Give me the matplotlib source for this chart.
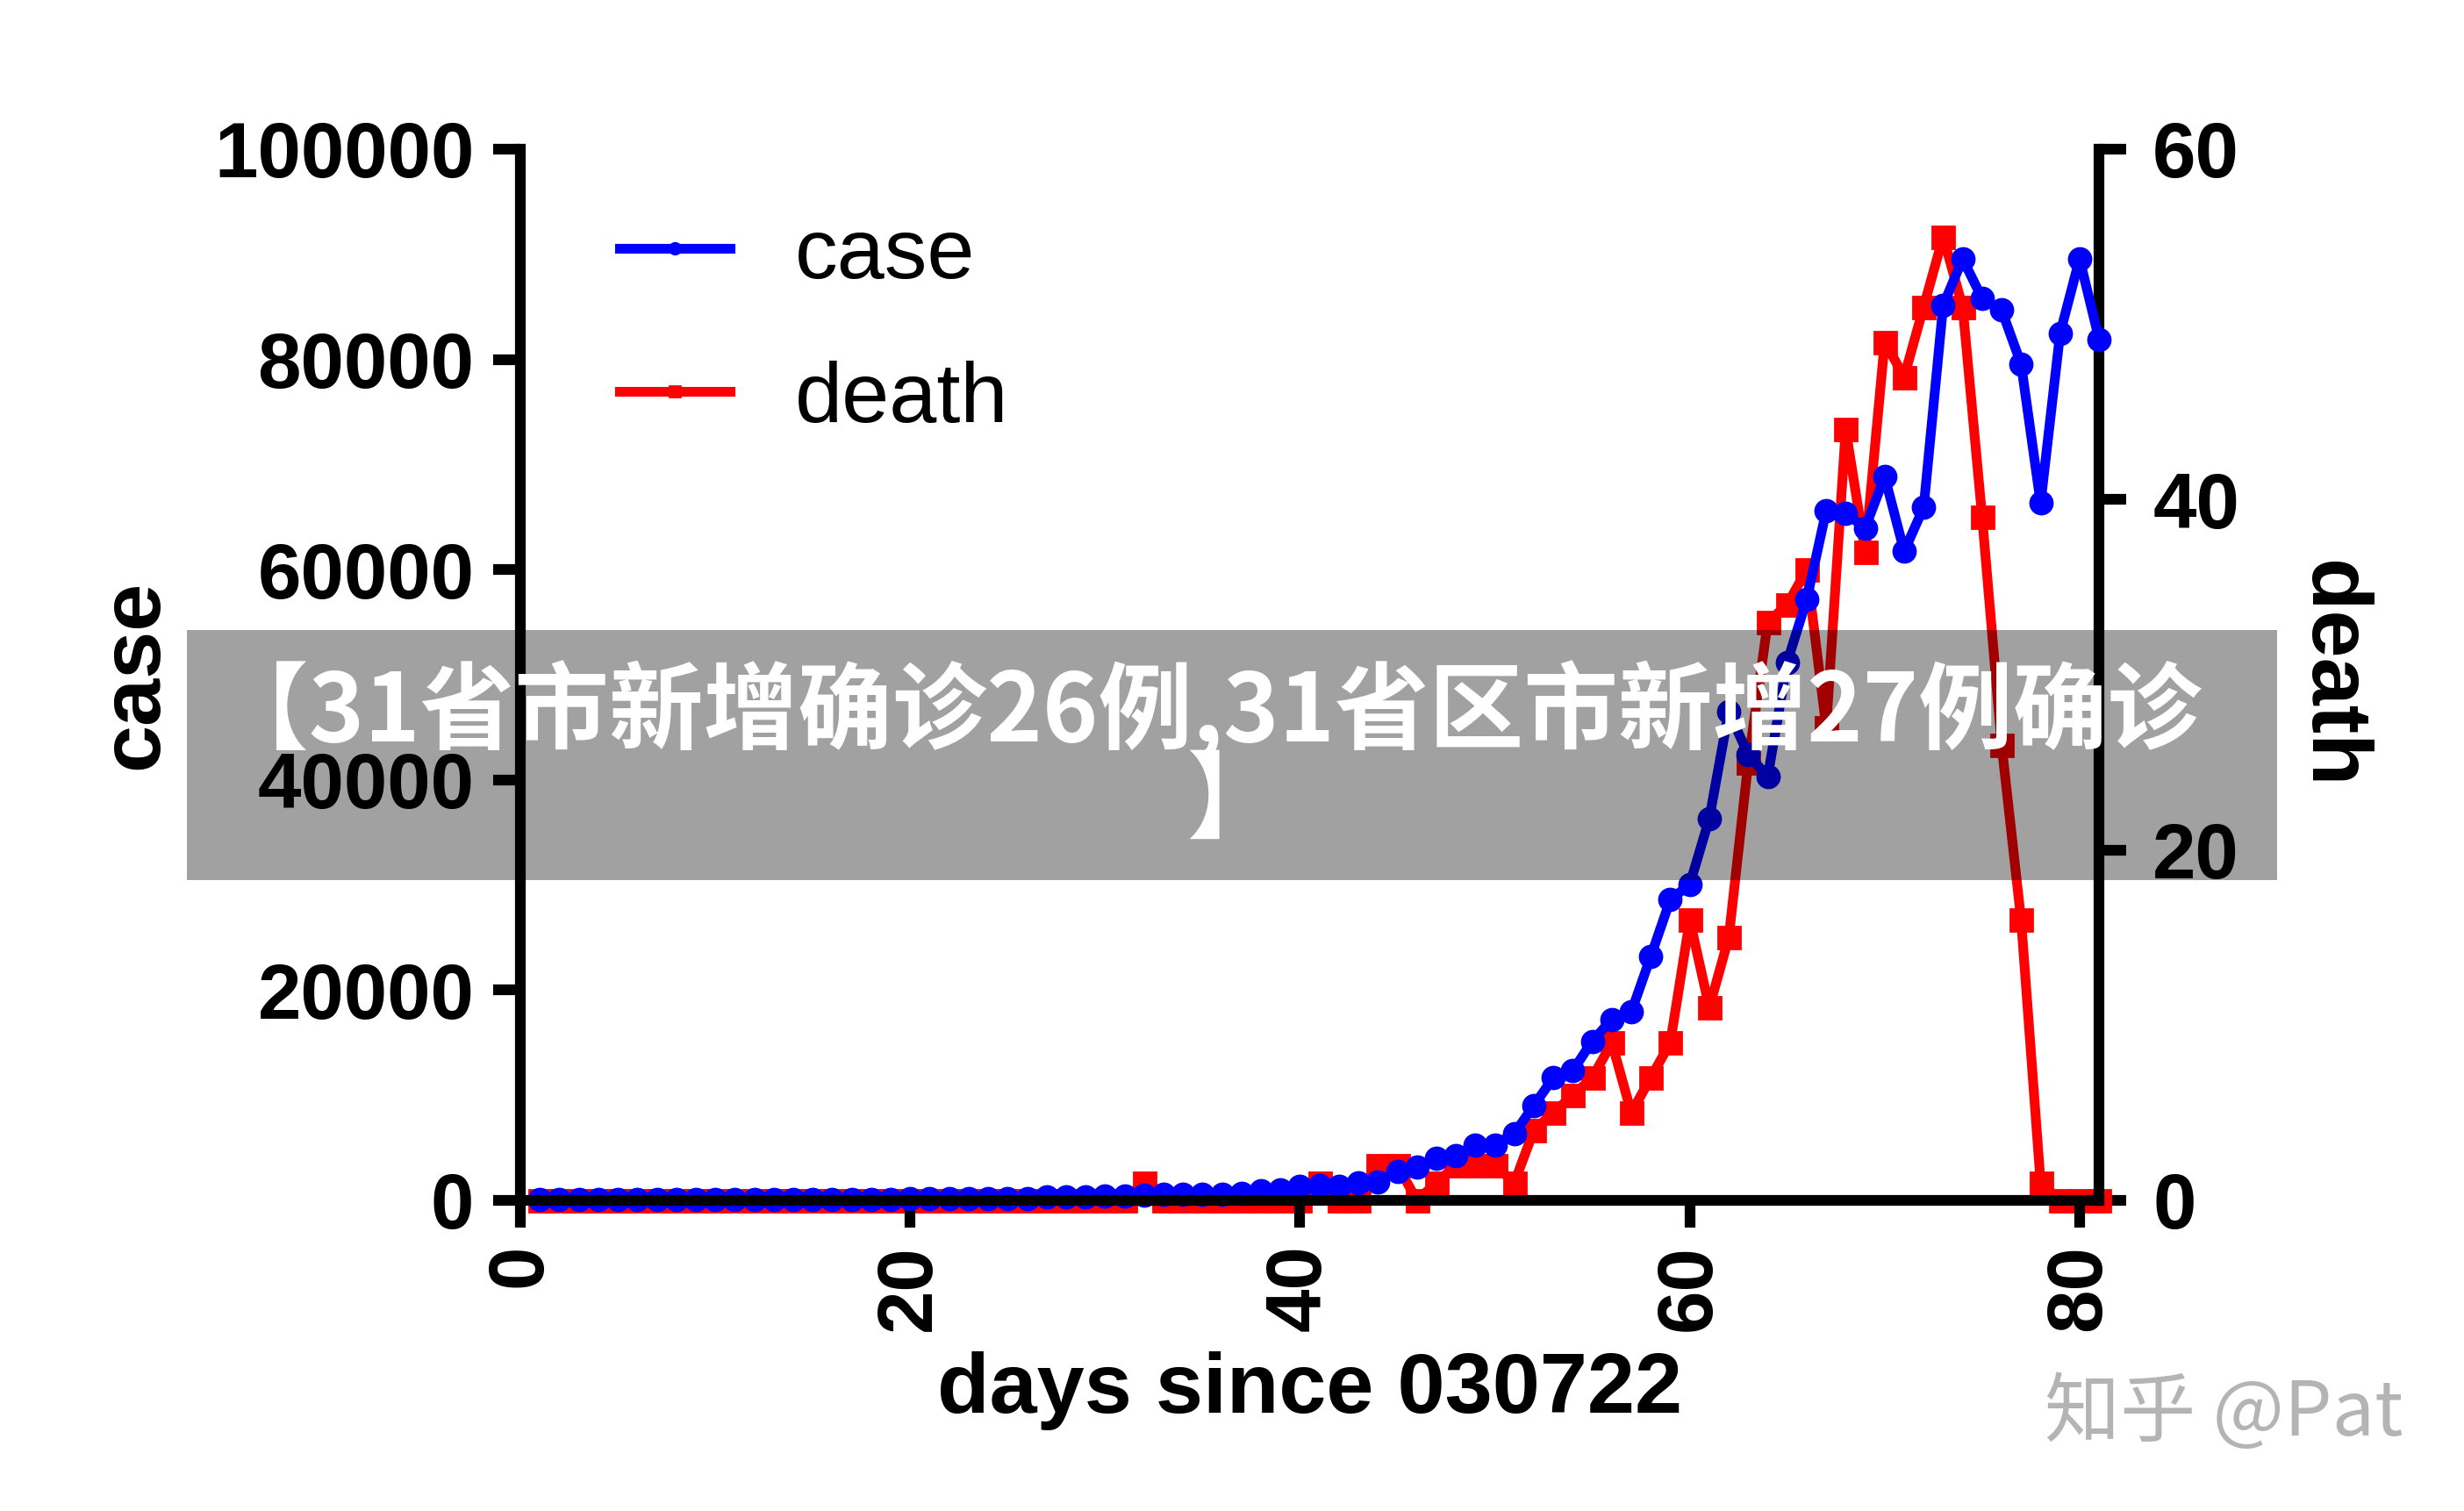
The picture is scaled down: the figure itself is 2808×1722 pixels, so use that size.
import matplotlib
matplotlib.use('Agg')
import matplotlib.pyplot as plt
from matplotlib.patches import Rectangle

# daily numbers
days = list(range(1, 82))
case = [40, 50, 50, 60, 60, 70, 60, 70, 80, 80, 90, 80, 90, 100, 100, 110, 110, 120,
        120, 130, 150, 140, 150, 160, 170, 200,
        300, 330, 350, 380, 400, 530, 540, 580, 600, 620, 700, 880, 1000, 1360,
        1440, 1360, 1640, 1780, 2750, 3170, 4000, 4290, 5260, 5260, 6370, 9020,
        11660, 12350, 15140, 17220, 17920,
        23200, 28600, 30050, 36300, 46500, 42400, 40300, 51200, 57150, 65600,
        65360, 63970, 68860, 61740, 65920, 85120, 89570, 85810, 84700, 79550,
        66330, 82470, 89570, 81910]
death = [0] * 31 + [1] + [0] * 8 + \
        [1, 0, 0, 2, 2, 0, 1, 2, 2, 2, 1,
         4, 5, 6, 7, 9, 5, 7, 9,
         16, 11, 15, 25, 33, 34, 36, 27, 44, 37,
         49, 47, 51, 55, 51, 39, 26, 16, 1, 0, 0, 0]

xticks = [0, 20, 40, 60, 80]
case_ticks = [0, 20000, 40000, 60000, 80000, 100000]
death_ticks = [0, 20, 40, 60]

banner1 = "【31省市新增确诊26例,31省区市新增27例确诊"
banner2 = "】"
watermark = "知乎 @Pat"

plt.rcParams['font.family'] = ['Liberation Sans', 'DejaVu Sans']
plt.rcParams['font.weight'] = 'bold'

fig = plt.figure(figsize=(14.04, 8.61), dpi=200)
ax = fig.add_axes([0.2112, 0.2056, 0.6407, 0.6957])
ax2 = ax.twinx()
ax.set_zorder(ax2.get_zorder() + 1)
ax.patch.set_visible(False)

lw = 4.0
sw = 4.4
l1, = ax.plot(days, case, color='#0000ff', lw=lw, marker='o', ms=9,
              clip_on=False, label='case')
l2, = ax2.plot(days, death, color='#ff0000', lw=lw, marker='s', ms=9,
               clip_on=False, label='death')

ax.set_xlim(0, 81)
ax.set_ylim(0, 100000)
ax2.set_ylim(0, 60)

ax.set_xticks(xticks)
ax.set_xticklabels([str(t) for t in xticks], rotation=90)
ax.set_yticks(case_ticks)
ax.set_yticklabels([str(t) for t in case_ticks])
ax2.set_yticks(death_ticks)
ax2.set_yticklabels([str(t) for t in death_ticks])

for a in (ax, ax2):
    a.spines['top'].set_visible(False)
    for s in a.spines.values():
        s.set_linewidth(sw)
ax.spines['right'].set_visible(False)
ax2.spines['left'].set_visible(False)
ax2.spines['bottom'].set_visible(False)

ax.tick_params(axis='both', direction='out', length=11, width=sw, labelsize=32)
ax.tick_params(axis='y', pad=8)
ax.tick_params(axis='x', pad=7)
ax2.tick_params(axis='y', direction='out', length=11, width=sw, labelsize=32, pad=11)

ax.set_xlabel('days since 030722', fontsize=35, fontweight='bold', va='center')
ax.xaxis.set_label_coords(0.5, -0.181)
ax.set_ylabel('case', fontsize=35, fontweight='bold', va='center')
ax.yaxis.set_label_coords(-0.244, 0.5)
ax2.set_ylabel('death', fontsize=35, fontweight='bold', rotation=270, va='center')
ax2.yaxis.set_label_coords(1.1466, 0.5)

ax.legend([l1, l2], ['case', 'death'], loc='upper left', bbox_to_anchor=(0.063, 0.936),
          frameon=False, prop={'size': 35, 'weight': 'normal'}, handlelength=1.29,
          handletextpad=0.76, labelspacing=0.76, borderpad=0, borderaxespad=0,
          markerscale=0.5)

# grey banner over the chart
cjk = ['Noto Sans CJK SC', 'DejaVu Sans']
fig.patches.append(Rectangle((0.0759, 0.4175), 0.8482, 0.1655, transform=fig.transFigure,
                             facecolor='black', edgecolor='none', alpha=0.37, zorder=10))
fig.text(0.4902, 0.5294, banner1, ha='center', va='center', color='white', fontsize=38.75,
         fontweight='heavy', family=cjk, zorder=11)
fig.text(0.501, 0.4691, banner2, ha='center', va='center', color='white', fontsize=38.75,
         fontweight='heavy', family=cjk, zorder=11)
fig.text(0.8298, 0.0639, watermark, ha='left', va='center', color='#b4b4b4', fontsize=31,
         fontweight='normal', family=cjk, zorder=11)

fig.savefig('out.png', dpi=200)
